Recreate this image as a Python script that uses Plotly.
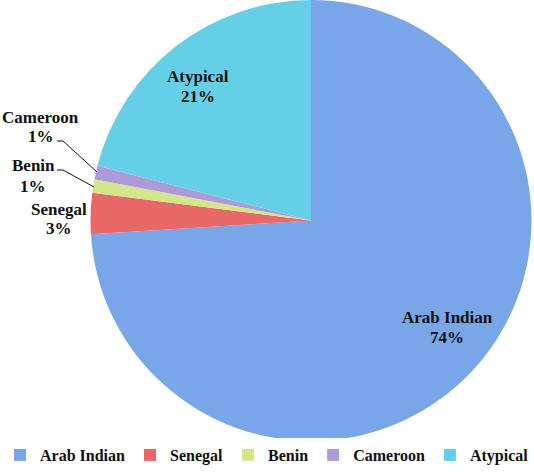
import plotly.graph_objects as go

labels = ["Arab Indian", "Senegal", "Benin", "Cameroon", "Atypical"]
values = [74, 3, 1, 1, 21]
colors = ["#78a6e6", "#e8686a", "#d4e68a", "#ad9bd8", "#66cfe8"]

W, H = 534, 472
# label text-line centres (name line, percent line) in pixels
label_px = {
    "Arab Indian": (447, 317, 337),
    "Senegal": (59, 210, 229),
    "Benin": (33, 166, 186),
    "Cameroon": (41, 117, 136),
    "Atypical": (198, 76, 96),
}
# leader lines for small slices (pixel polylines)
leaders = {
    "Cameroon": [(57, 141), (63, 141), (97, 172)],
    "Benin": [(57, 170), (63, 170), (94, 187)],
}

def px(x, y):
    return x / W, 1 - y / H

fig = go.Figure(go.Pie(
    labels=labels, values=values, sort=False, direction="clockwise", rotation=0,
    marker=dict(colors=colors, line=dict(width=0)),
    textinfo="none", hoverinfo="label+percent",
    domain=dict(x=[90 / W, 532 / W], y=[1 - 441 / H, 1 - 0 / H]),
))

total = sum(values)
font = dict(family="Liberation Serif, Times New Roman, serif", size=17, color="#111111")
for lab, val in zip(labels, values):
    cx, y1, y2 = label_px[lab]
    pct = round(100 * val / total)
    for txt, yy in ((lab, y1), (f"{pct}%", y2)):
        x, y = px(cx, yy)
        fig.add_annotation(x=x, y=y, xref="paper", yref="paper", showarrow=False,
                           text=f"<b>{txt}</b>", font=font, align="center",
                           xanchor="center", yanchor="middle")

for lab, pts in leaders.items():
    for (x0, y0), (x1, y1) in zip(pts[:-1], pts[1:]):
        a0, b0 = px(x0, y0)
        a1, b1 = px(x1, y1)
        fig.add_shape(type="line", xref="paper", yref="paper", x0=a0, y0=b0, x1=a1, y1=b1,
                      line=dict(color="#111111", width=1))

fig.update_layout(
    width=W, height=H, margin=dict(l=0, r=0, t=0, b=0),
    paper_bgcolor="white", plot_bgcolor="white",
    legend=dict(orientation="h", x=0.0, xanchor="left", y=0, yanchor="bottom",
                font=dict(family="Liberation Serif, Times New Roman, serif", size=16,
                          color="#111111", weight="bold"),
                itemwidth=30, traceorder="normal"),
    showlegend=True,
)

fig.write_html("out.html", config={"displayModeBar": False},
               post_script="document.body.style.margin='0';")
